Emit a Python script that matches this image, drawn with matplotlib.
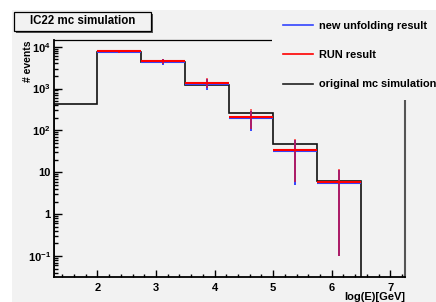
import numpy as np
import matplotlib
matplotlib.use("Agg")
import matplotlib.pyplot as plt
from matplotlib.patches import Rectangle
from matplotlib.lines import Line2D
from matplotlib.ticker import FixedLocator, LogLocator, MultipleLocator, NullFormatter

plt.rcParams['font.family'] = ['Liberation Sans', 'DejaVu Sans']
plt.rcParams['font.weight'] = 'bold'
plt.rcParams['mathtext.fontset'] = 'custom'
plt.rcParams['mathtext.rm'] = 'Liberation Sans:bold'
plt.rcParams['mathtext.it'] = 'Liberation Sans:bold'
plt.rcParams['mathtext.bf'] = 'Liberation Sans:bold'

# bin edges in log(E)[GeV]
edges = [1.25, 2.0, 2.75, 3.5, 4.25, 5.0, 5.75, 6.5]
# original mc simulation
mc_vals = [430, 7600, 4400, 1220, 257, 47, 6.3]
# RUN result (bins 2..7)
run_vals = [7700, 4450, 1380, 214, 34, 5.9]
run_err = [500, 700, 370, 105, 28, 5.8]
# new unfolding result (bins 2..7)
new_vals = [7550, 4300, 1290, 196, 32, 5.6]
new_err = [500, 700, 360, 100, 27, 5.5]

ytick_vals = [0.1, 1, 10, 100, 1000, 10000]
ytick_labels = [r'$10^{-1}$', '1', '10', r'$10^{2}$', r'$10^{3}$', r'$10^{4}$']
xtick_vals = [2, 3, 4, 5, 6, 7]

W, H = 436, 302
bg = '#f2f2f2'
fig = plt.figure(figsize=(W / 100, H / 100), dpi=100, facecolor='white')
fig.patches.append(Rectangle((12 / W, 0), 1, 1 - 10 / H, transform=fig.transFigure,
                             facecolor=bg, edgecolor='none', zorder=-10))

ax = fig.add_axes([53.5 / W, 1 - 277 / H, (405 - 53.5) / W, (277 - 39.5) / H])
ax.set_facecolor(bg)
ax.set_yscale('log')
ax.set_xlim(1.25, 7.25)
ax.set_ylim(10 ** -1.5, 10 ** 4.17)

# histograms
ax.stairs(mc_vals, edges, baseline=1e-3, color='#111111', lw=1.2, zorder=2)
lo = np.array(edges[1:-1])
hi = np.array(edges[2:])
ctr = (lo + hi) / 2
ax.hlines(new_vals, lo, hi, color='#3344ff', lw=1.5, zorder=3)
ax.vlines(ctr, np.array(new_vals) - np.array(new_err),
          np.array(new_vals) + np.array(new_err), color='#3344ff', lw=1.4, zorder=3)
ax.hlines(run_vals, lo, hi, color='red', lw=1.5, zorder=4)
ax.vlines(ctr, np.array(run_vals) - np.array(run_err),
          np.array(run_vals) + np.array(run_err), color='red', lw=1.4, alpha=0.6, zorder=4)

# axes style (ROOT-like)
for s in ['left', 'bottom']:
    ax.spines[s].set_linewidth(1.3)
ax.spines['top'].set_linewidth(0.9)
ax.spines['right'].set_color('#555555')
ax.spines['right'].set_linewidth(1.5)

ax.xaxis.set_major_locator(FixedLocator(xtick_vals))
ax.xaxis.set_minor_locator(MultipleLocator(0.2))
ax.yaxis.set_major_locator(FixedLocator(ytick_vals))
ax.set_yticklabels(ytick_labels)
ax.yaxis.set_minor_locator(LogLocator(base=10, subs=np.arange(2, 10), numticks=20))
ax.yaxis.set_minor_formatter(NullFormatter())
ax.tick_params(which='both', direction='in', top=False, right=False, labelsize=8, width=1)
ax.tick_params(axis='x', which='major', length=5, pad=4)
ax.tick_params(axis='x', which='minor', length=2.5)
ax.tick_params(axis='y', which='major', length=6, pad=2)
ax.tick_params(axis='y', which='minor', length=3)

fig.text(405 / W, 1 - 297 / H, 'log(E)[GeV]', ha='right', va='center', fontsize=8, fontweight='bold')
fig.text(28 / W, 1 - 40 / H, '# events', ha='center', va='top', rotation=90, fontsize=7.5, fontweight='bold')

# title box
fig.patches.append(Rectangle((16 / W, 1 - 32.5 / H), 137 / W, 18.5 / H, transform=fig.transFigure,
                             facecolor='#555555', edgecolor='none', zorder=4))
fig.patches.append(Rectangle((14 / W, 1 - 30.5 / H), 137 / W, 18.5 / H, transform=fig.transFigure,
                             facecolor=bg, edgecolor='black', lw=0.9, zorder=5))
fig.text(82.5 / W, 1 - 21.5 / H, 'IC22 mc simulation', ha='center', va='center',
         fontsize=8.3, fontweight='bold', zorder=6)

# legend
handles = [Line2D([], [], color='#3344ff', lw=1.2),
           Line2D([], [], color='red', lw=1.2),
           Line2D([], [], color='#222222', lw=1.2)]
labels = ['new unfolding result', 'RUN result', 'original mc simulation']
leg = fig.legend(handles, labels, loc='upper left', bbox_to_anchor=(272 / W, 1 - 10 / H),
                 borderaxespad=0, borderpad=1.0, handlelength=2.7, handletextpad=0.6,
                 labelspacing=1.75, frameon=True, fancybox=False,
                 prop={'weight': 'bold', 'size': 7.9})
leg.get_frame().set_facecolor(bg)
leg.get_frame().set_edgecolor('none')
leg.get_frame().set_alpha(1)
leg.set_zorder(10)

fig.savefig('out.png', dpi=100, facecolor='white')
